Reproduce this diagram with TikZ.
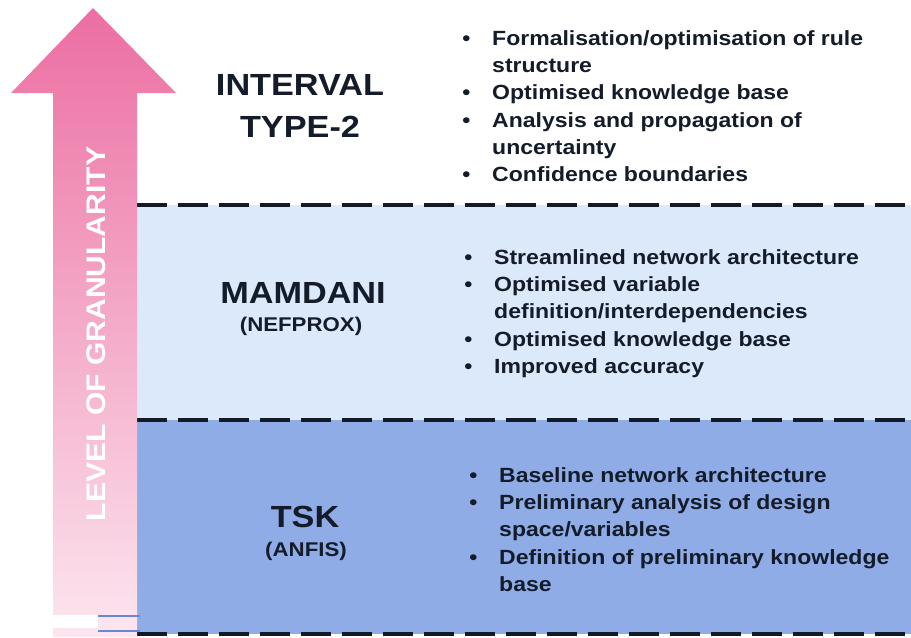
\documentclass[tikz,border=0pt]{standalone}
\usepackage{fontspec}
\setmainfont[FakeStretch=1.12]{Liberation Sans}
\definecolor{bandlight}{RGB}{220,233,250}
\definecolor{banddark}{RGB}{143,172,231}
\definecolor{dashink}{RGB}{18,26,38}
\definecolor{textink}{RGB}{20,28,42}
\definecolor{arrowpink}{RGB}{236,110,162}
\definecolor{arrowpale}{RGB}{252,230,239}
\definecolor{edgeblue}{RGB}{105,135,212}
\newcommand{\bitem}{\makebox[17pt][l]{\textbullet}}
\newcommand{\bgap}{\hspace*{17pt}}

\begin{document}
\begin{tikzpicture}[x=0.02cm, y=-0.02cm,
    heading/.style={font=\bfseries\fontsize{17.4}{23.9}\selectfont, text=textink, align=center, inner sep=0pt},
    subheading/.style={font=\bfseries\fontsize{11.3}{13}\selectfont, text=textink, inner sep=0pt},
    itemlist/.style={font=\bfseries\fontsize{11.7}{15.5}\selectfont, text=textink, align=left, inner sep=0pt, anchor=north west}]
  \useasboundingbox (0,0) rectangle (911,637);
  \fill[white] (0,0) rectangle (911,637);

  % bands
  \fill[bandlight] (137,205) rectangle (911,420);
  \fill[banddark] (137,420) rectangle (911,634);
  \foreach \y in {205,420,634}
    \draw[dashink, line width=2.3pt, dash pattern=on 0.6cm off 0.22cm] (137,\y) -- (911,\y);

  % granularity arrow
  \shade[top color=arrowpink, bottom color=arrowpale]
    (93,8) -- (176,93) -- (137,93) -- (137,637) -- (53,637) -- (53,93) -- (11,93) -- cycle;
  \fill[white] (53,615) rectangle (98,628);
  \draw[edgeblue, line width=1.5pt] (98,616) -- (140,616);
  \draw[edgeblue, line width=1.5pt] (98,631) -- (140,631);
  \node[rotate=90, font=\bfseries\fontsize{15.3}{16}\selectfont, text=white, inner sep=0pt]
    (granularity) at (96,334) {LEVEL OF GRANULARITY};

  % headings
  \node[heading] (interval) at (300,106) {INTERVAL\\TYPE-2};
  \node[heading] (mamdani) at (303,293) {MAMDANI};
  \node[subheading] (nefprox) at (301,326) {(NEFPROX)};
  \node[heading] (tsk) at (305,517) {TSK};
  \node[subheading] (anfis) at (306,551) {(ANFIS)};

  % lists
  \node[itemlist] (topitems) at (462,26) {\strut\bitem Formalisation/optimisation of rule\\
    \bgap structure\\
    \bitem Optimised knowledge base\\
    \bitem Analysis and propagation of\\
    \bgap uncertainty\\
    \bitem Confidence boundaries};
  \node[itemlist] (miditems) at (464,245) {\strut\bitem Streamlined network architecture\\
    \bitem Optimised variable\\
    \bgap definition/interdependencies\\
    \bitem Optimised knowledge base\\
    \bitem Improved accuracy};
  \node[itemlist] (lowitems) at (469,463) {\strut\bitem Baseline network architecture\\
    \bitem Preliminary analysis of design\\
    \bgap space/variables\\
    \bitem Definition of preliminary knowledge\\
    \bgap base};
\end{tikzpicture}
\end{document}
